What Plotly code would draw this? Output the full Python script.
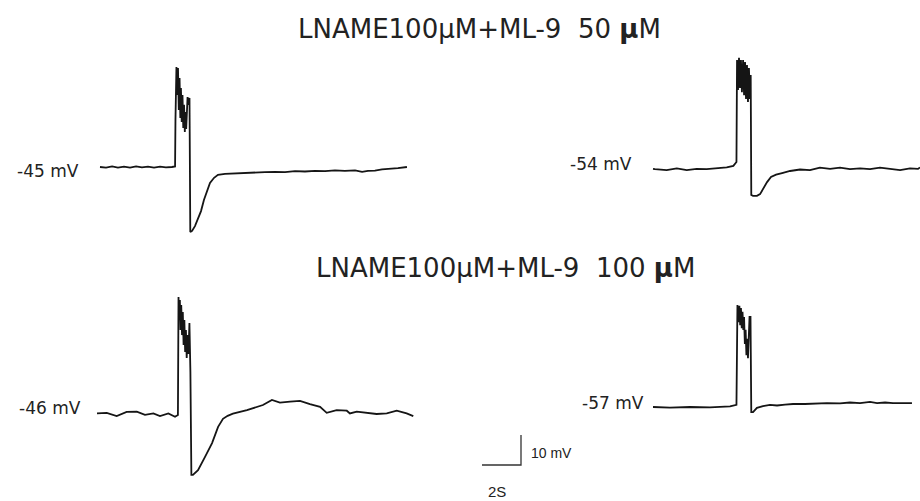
import plotly.graph_objects as go

W, H = 920, 501
PX_PER_S = 19.5     # horizontal scale: 2 s = 39 px
PX_PER_MV = 3.0     # vertical scale: 10 mV = 30 px

# ---------------- data (time in s, membrane potential in mV) ----------------
# Panel A: LNAME 100uM + ML-9 50uM, cell 1 (rest -45 mV)
a1_t = [0, 0.31, 0.62, 0.92, 1.23, 1.54, 1.85, 2.15, 2.46, 2.77, 3.08, 3.38, 3.69, 3.85,
        3.87, 3.92, 3.96, 4.00, 4.04, 4.08, 4.12, 4.15, 4.19, 4.23, 4.27, 4.31, 4.35, 4.38,
        4.42, 4.49, 4.54, 4.59, 4.63, 4.72, 4.87, 5.03, 5.18, 5.33, 5.49, 5.64, 5.85, 6.05,
        6.41, 6.92, 7.44, 7.95, 8.46, 8.97, 9.49, 10.00, 10.51, 11.03, 11.54, 12.05, 12.56,
        13.08, 13.44, 13.74, 14.10, 14.46, 14.87, 15.28, 15.74]
a1_v = [-45.0, -45.2, -44.8, -45.2, -44.9, -45.2, -44.8, -45.1, -44.9, -45.2, -44.9, -45.1, -45.0, -44.8,
        -29.3, -11.7, -21.0, -12.0, -26.0, -15.3, -28.7, -18.7, -30.0, -21.0, -32.0, -24.3, -33.3, -26.7,
        -32.3, -21.7, -24.3, -22.0, -66.7, -66.3, -64.7, -62.3, -59.7, -56.0, -52.7, -50.3, -48.6, -47.6,
        -47.3, -47.1, -46.9, -46.8, -46.7, -46.6, -46.7, -46.4, -46.5, -46.3, -46.4, -46.1, -46.3,
        -46.1, -46.6, -46.3, -46.2, -45.8, -45.7, -45.4, -45.0]

# Panel B: LNAME 100uM + ML-9 50uM, cell 2 (rest -54 mV)
a2_t = [0, 0.10, 0.70, 1.22, 1.73, 2.24, 2.75, 3.27, 3.78, 4.12, 4.28, 4.31, 4.36, 4.41, 4.46,
        4.51, 4.56, 4.62, 4.67, 4.72, 4.77, 4.82, 4.87, 4.92, 4.97, 5.01, 5.04, 5.13, 5.33,
        5.49, 5.64, 5.85, 6.05, 6.31, 6.62, 7.03, 7.54, 8.05, 8.56, 9.08, 9.59, 10.10, 10.62,
        11.13, 11.64, 12.15, 12.67, 13.18, 13.59, 13.69]
a2_v = [-54.3, -54.4, -54.7, -54.1, -54.7, -54.3, -54.4, -54.1, -53.8, -53.3, -52.0, -18.0, -28.0, -17.3, -27.3,
        -18.0, -28.7, -18.0, -29.7, -18.7, -31.0, -19.7, -32.0, -20.7, -31.0, -23.0, -63.0, -63.3, -63.3,
        -62.7, -61.0, -58.7, -57.0, -56.2, -55.7, -55.0, -54.5, -54.7, -53.9, -54.3, -53.9, -54.4, -54.1,
        -54.4, -53.9, -54.3, -54.7, -54.1, -54.3, -53.8]

# Panel C: LNAME 100uM + ML-9 100uM, cell 1 (rest -46 mV)
b1_t = [0, 0.50, 1.01, 1.52, 2.04, 2.46, 2.89, 3.23, 3.66, 4.00, 4.15, 4.18, 4.22, 4.25, 4.28,
        4.32, 4.36, 4.40, 4.44, 4.48, 4.52, 4.56, 4.60, 4.64, 4.69, 4.74, 4.79, 4.84, 4.92,
        5.18, 5.54, 5.90, 6.21, 6.46, 6.70, 6.97, 7.69, 8.21, 8.51, 8.97, 9.38, 9.90, 10.41, 10.92,
        11.44, 11.78, 12.29, 12.81, 12.97, 13.32, 13.83, 14.34, 14.86, 15.37, 15.88, 16.22]
b1_v = [-45.8, -45.6, -46.7, -45.3, -45.2, -46.3, -45.8, -46.7, -45.8, -46.9, -46.3, -7.0, -14.7, -8.0, -18.0,
        -9.7, -19.7, -12.0, -23.0, -14.7, -25.3, -18.0, -27.3, -19.7, -26.0, -15.7, -32.0, -66.3, -66.3,
        -64.7, -60.3, -55.7, -50.3, -47.6, -46.6, -45.9, -44.7, -43.7, -43.0, -41.3, -42.2, -41.9, -41.6, -42.7,
        -43.6, -45.6, -44.7, -44.9, -45.8, -45.2, -45.6, -46.0, -45.8, -44.9, -45.8, -46.7]

# Panel D: LNAME 100uM + ML-9 100uM, cell 2 (rest -57 mV)
b2_t = [0, 0.87, 1.90, 2.92, 3.95, 4.28, 4.33, 4.38, 4.43, 4.47, 4.51, 4.55, 4.59, 4.63, 4.67,
        4.71, 4.75, 4.79, 4.84, 4.87, 4.95, 5.00, 5.04, 5.13, 5.33, 5.64, 6.00, 6.36, 6.77,
        7.18, 7.79, 8.31, 8.92, 9.59, 10.10, 10.62, 11.13, 11.49, 11.90, 12.31, 12.92, 13.28]
b2_v = [-57.0, -57.2, -57.0, -57.1, -56.8, -56.3, -23.0, -28.7, -23.3, -29.7, -24.0, -30.7, -25.3, -31.3, -27.0,
        -36.0, -31.3, -39.7, -34.3, -40.7, -27.0, -27.0, -58.7, -58.7, -57.3, -56.7, -56.3, -56.5, -56.2,
        -56.0, -56.0, -55.8, -55.7, -55.8, -55.5, -55.7, -55.3, -55.7, -55.5, -55.7, -55.7, -55.7]

# scale bar: 2 s horizontal, 10 mV vertical
sb_t = [0, 2, 2]
sb_v = [0, 0, 10]

titles = ["LNAME100μM+ML-9  50 <b>μ</b>M", "LNAME100μM+ML-9  100 <b>μ</b>M"]
rest_labels = ["-45 mV", "-54 mV", "-46 mV", "-57 mV"]
rest_values = [-45, -54, -46, -57]
scale_labels = ["10 mV", "2S"]

# ---------------- layout helpers ----------------
def px(x):
    return x / W

def py(y):
    return 1 - y / H

# (box x0, y0, x1, y1 in px), (anchor px x, anchor px y) for t=0, V=Vref
panels = [
    ((88, 45, 422, 250), (100, 167), rest_values[0], a1_t, a1_v),
    ((645, 40, 920, 215), (653, 168), rest_values[1], a2_t, a2_v),
    ((85, 282, 425, 490), (97, 414), rest_values[2], b1_t, b1_v),
    ((645, 288, 920, 425), (653, 407), rest_values[3], b2_t, b2_v),
]

fig = go.Figure()
LINE = dict(color="#151515", width=1.8)

axis_common = dict(visible=False, showgrid=False, zeroline=False, fixedrange=True)

def add_axes(i, box, anchor, vref):
    bx0, by0, bx1, by1 = box
    ax, ay = anchor
    xr = [(bx0 - ax) / PX_PER_S, (bx1 - ax) / PX_PER_S]
    yr = [vref - (by1 - ay) / PX_PER_MV, vref + (ay - by0) / PX_PER_MV]
    xname = "xaxis" if i == 1 else f"xaxis{i}"
    yname = "yaxis" if i == 1 else f"yaxis{i}"
    fig.layout[xname] = dict(domain=[px(bx0), px(bx1)], range=xr,
                             anchor="y" if i == 1 else f"y{i}", **axis_common)
    fig.layout[yname] = dict(domain=[py(by1), py(by0)], range=yr,
                             anchor="x" if i == 1 else f"x{i}", **axis_common)

for i, (box, anchor, vref, t, v) in enumerate(panels, start=1):
    add_axes(i, box, anchor, vref)
    fig.add_trace(go.Scatter(x=t, y=v, mode="lines", line=LINE,
                             xaxis="x" if i == 1 else f"x{i}",
                             yaxis="y" if i == 1 else f"y{i}",
                             hoverinfo="skip", showlegend=False, cliponaxis=False))

# scale bar axes
add_axes(5, (470, 425, 600, 500), (482, 465), 0)
fig.add_trace(go.Scatter(x=sb_t, y=sb_v, mode="lines",
                         line=dict(color="#333333", width=1.3),
                         xaxis="x5", yaxis="y5", hoverinfo="skip", showlegend=False))

FONT = "DejaVu Sans, Liberation Sans, Arial, sans-serif"
FONT2 = "Liberation Sans, Arial, sans-serif"
ann = []
# titles
ann.append(dict(text=titles[0], x=px(479), y=py(29), xref="paper", yref="paper",
                showarrow=False, xanchor="center", yanchor="middle",
                font=dict(family=FONT, size=26, color="#222")))
ann.append(dict(text=titles[1], x=px(505), y=py(268), xref="paper", yref="paper",
                showarrow=False, xanchor="center", yanchor="middle",
                font=dict(family=FONT, size=26, color="#222")))
# resting potential labels (right edge, centre y in px)
label_pos = [(81, 171), (634, 164), (83, 408), (646, 403)]
for lab, (lx, ly) in zip(rest_labels, label_pos):
    ann.append(dict(text=lab, x=px(lx), y=py(ly), xref="paper", yref="paper",
                    showarrow=False, xanchor="right", yanchor="middle",
                    font=dict(family=FONT, size=17, color="#222")))
# scale bar labels
ann.append(dict(text=scale_labels[0], x=px(529), y=py(453), xref="paper", yref="paper",
                showarrow=False, xanchor="left", yanchor="middle",
                font=dict(family=FONT2, size=14, color="#222")))
ann.append(dict(text=scale_labels[1], x=px(497), y=py(491), xref="paper", yref="paper",
                showarrow=False, xanchor="center", yanchor="middle",
                font=dict(family=FONT2, size=15, color="#222")))

fig.update_layout(width=W, height=H, margin=dict(l=0, r=0, t=0, b=0),
                  paper_bgcolor="white", plot_bgcolor="rgba(0,0,0,0)",
                  annotations=ann, showlegend=False)

fig.write_html("out.html", config={"displayModeBar": False},
               post_script="document.body.style.margin='0';document.body.style.overflow='hidden';")
